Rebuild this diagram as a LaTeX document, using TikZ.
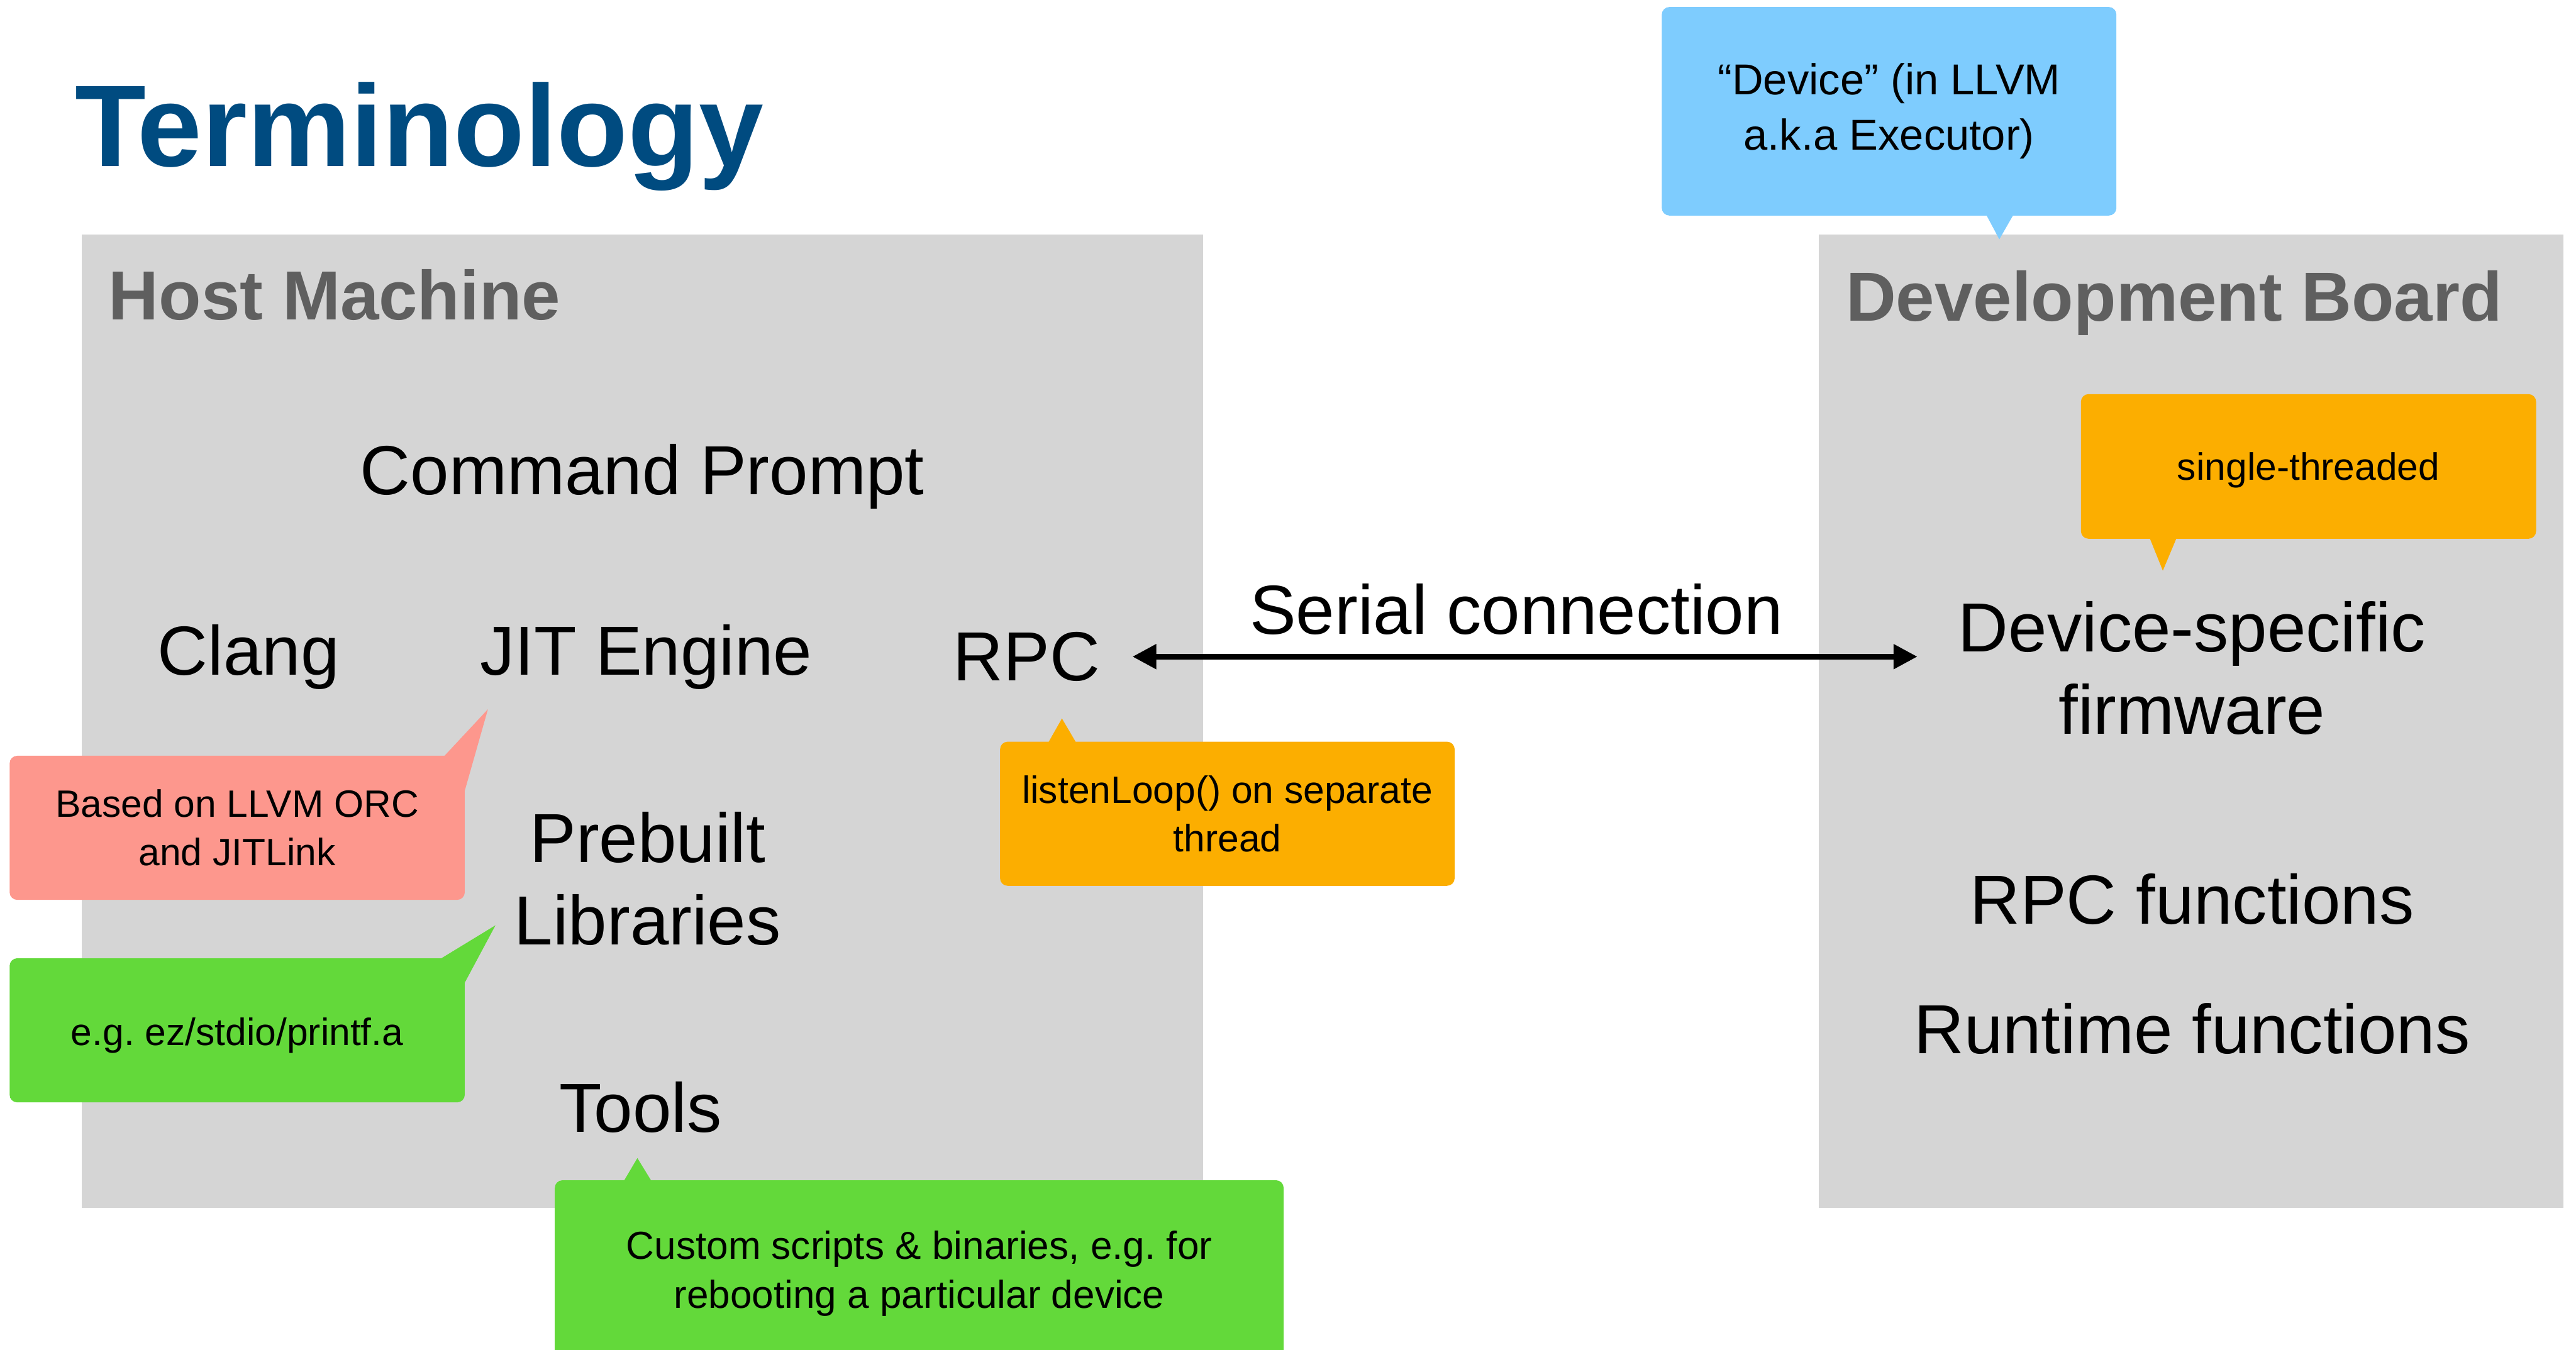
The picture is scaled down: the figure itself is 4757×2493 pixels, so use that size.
\documentclass[tikz,border=0pt]{standalone}
\usepackage{fontspec}
\setmainfont{Liberation Sans}
\usetikzlibrary{arrows.meta}
\frenchspacing

\definecolor{panelgray}{HTML}{D5D5D5}
\definecolor{titlegray}{HTML}{5F5F5F}
\definecolor{titleblue}{HTML}{004B80}
\definecolor{notered}{HTML}{FD978D}
\definecolor{notegreen}{HTML}{63D93A}
\definecolor{noteorange}{HTML}{FCAE00}
\definecolor{noteblue}{HTML}{7ECCFE}

\begin{document}
\begin{tikzpicture}[x=0.01cm, y=-0.01cm,
  panel/.style={fill=panelgray, draw=none, inner sep=0, outer sep=0},
  paneltitle/.style={anchor=base west, inner sep=0, text=titlegray,
    font=\fontsize{36.5}{43}\selectfont\bfseries},
  item/.style={anchor=base, inner sep=0, align=center,
    font=\fontsize{36.5}{43.2}\selectfont},
  bubble/.style={rounded corners=4pt, inner sep=0, align=center,
    font=\fontsize{20}{25.4}\selectfont},
  link/.style={line width=0.1cm,
    {Triangle[length=0.44cm,width=0.44cm]}-{Triangle[length=0.44cm,width=0.44cm]}}
]
\useasboundingbox (0,0) rectangle (4757,2493);

% heading
\node[anchor=base west, inner sep=0, text=titleblue,
      font=\fontsize{61}{72}\selectfont\bfseries] (title) at (138,307) {Terminology};

% the two machines
\node[panel, minimum width=20.69cm, minimum height=17.96cm] (host) at (1186.5,1332) {};
\node[panel, minimum width=13.74cm, minimum height=17.96cm] (board) at (4046,1332) {};
\node[paneltitle] (hosttitle) at (200,591) {Host Machine};
\node[paneltitle] (boardtitle) at (3408,593) {Development Board};

% host side (multi-line items sit on the baseline of their last line)
\node[item] (cmd) at (1186,913) {Command Prompt};
\node[item] (clang) at (459,1247) {Clang};
\node[item] (jit) at (1193,1247) {JIT Engine};
\node[item] (rpc) at (1896,1257) {RPC};
\node[item] (libs) at (1196,1745) {Prebuilt\\Libraries};
\node[item] (tools) at (1183,2091) {Tools};

% board side
\node[item] (devfw) at (4048,1356) {Device-specific\\firmware};
\node[item] (rpcfn) at (4048,1707) {RPC functions};
\node[item] (runfn) at (4048,1946) {Runtime functions};

% serial link
\draw[link, shorten <=0.59cm, shorten >=0.75cm] (rpc.east) -- (rpc.east -| devfw.west)
  node[pos=0.485, anchor=base, yshift=0.42cm, inner sep=0,
       font=\fontsize{36.5}{43.2}\selectfont] (serial) {Serial connection};

% annotations
\node[bubble, fill=notered, minimum width=8.4cm, minimum height=2.66cm] (orcnote) at (438,1529)
  {Based on LLVM ORC\\and JITLink};
\fill[notered] (818,1399) -- (901,1310) -- (855,1472) -- cycle;

\node[bubble, fill=notegreen, minimum width=8.4cm, minimum height=2.66cm,
      text height=0.56cm, text depth=0cm] (libnote) at (438,1903)
  {e.g. ez/stdio/printf.a};
\fill[notegreen] (810,1773) -- (915,1709) -- (855,1821) -- cycle;

\node[bubble, fill=noteorange, minimum width=8.39cm, minimum height=2.66cm,
      font=\fontsize{20}{25.6}\selectfont] (loopnote) at (2266.5,1503)
  {listenLoop() on separate\\thread};
\fill[noteorange] (1935,1373) -- (1961,1327) -- (1988,1373) -- cycle;

\node[bubble, fill=noteblue, minimum width=8.39cm, minimum height=3.85cm,
      font=\fontsize{22.7}{29}\selectfont] (devnote) at (3488.5,205.5)
  {“Device” (in LLVM\\a.k.a Executor)};
\fill[noteblue] (3667,395) -- (3692,442) -- (3719,395) -- cycle;

\node[bubble, fill=noteorange, minimum width=8.4cm, minimum height=2.67cm,
      text height=0.51cm, text depth=0cm] (threadnote) at (4263,861.5)
  {single-threaded};
\fill[noteorange] (3969,992) -- (3994,1054) -- (4020,992) -- cycle;

\node[bubble, fill=notegreen, minimum width=13.45cm, minimum height=3.44cm,
      font=\fontsize{20.5}{25.9}\selectfont] (toolnote) at (1697.5,2352)
  {Custom scripts \& binaries, e.g. for\\rebooting a particular device};
\fill[notegreen] (1151,2183) -- (1177,2139) -- (1204,2183) -- cycle;
\end{tikzpicture}
\end{document}
